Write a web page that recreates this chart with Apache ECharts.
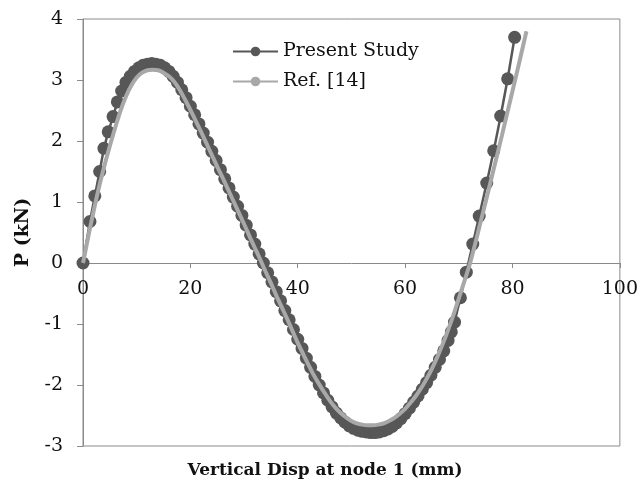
<!DOCTYPE html>
<html>
<head>
<meta charset="utf-8">
<title>P vs vertical disp</title>
<script src="https://cdn.jsdelivr.net/npm/echarts@6/dist/echarts.min.js"></script>
<style>
  html, body { margin: 0; padding: 0; background: #fff; }
  #chart { width: 641px; height: 490px; }
</style>
</head>
<body>
<div id="chart"></div>
<script>
// 本文的计算结果 (Present Study)
const presentX = [0, 1.3, 2.2, 3.1, 3.9, 4.7, 5.6, 6.4, 7.2, 8.0, 8.8, 9.6, 10.4, 11.2, 12.0, 12.8,
  13.6, 14.4, 15.2, 16.0, 16.8, 17.6, 18.4, 19.2, 20.0, 20.8, 21.6, 22.4, 23.2, 24.0, 24.8, 25.6,
  26.4, 27.2, 28.0, 28.8, 29.6, 30.4, 31.2, 32.0, 32.8, 33.6, 34.4, 35.2, 36.0, 36.8, 37.6, 38.4,
  39.2, 40.0, 40.8, 41.6, 42.4, 43.2, 44.0, 44.8, 45.6, 46.4, 47.2, 48.0, 48.8, 49.6, 50.4, 51.2,
  52.0, 52.8, 53.6, 54.4, 55.2, 56.0, 56.8, 57.6, 58.4, 59.2, 60.0, 60.8, 61.6, 62.4, 63.2, 64.0,
  64.8, 65.6, 66.4, 67.2, 68.0, 68.6, 69.2, 70.3, 71.4, 72.6, 73.8, 75.2, 76.5, 77.8, 79.1, 80.4]
const presentY = [0, 0.68, 1.10, 1.50, 1.88, 2.15, 2.40, 2.64, 2.82, 2.96, 3.06, 3.14, 3.20, 3.24, 3.26, 3.27,
  3.26, 3.24, 3.20, 3.14, 3.06, 2.96, 2.84, 2.71, 2.57, 2.43, 2.28, 2.13, 1.98, 1.83, 1.68, 1.53,
  1.38, 1.23, 1.08, 0.93, 0.78, 0.62, 0.46, 0.31, 0.15, 0.00, -0.16, -0.31, -0.47, -0.62, -0.78, -0.93,
  -1.09, -1.25, -1.40, -1.56, -1.71, -1.86, -2.00, -2.13, -2.25, -2.36, -2.46, -2.54, -2.61, -2.67, -2.71, -2.74,
  -2.76, -2.77, -2.78, -2.78, -2.77, -2.75, -2.72, -2.68, -2.62, -2.55, -2.47, -2.38, -2.28, -2.18, -2.07, -1.96,
  -1.84, -1.71, -1.58, -1.44, -1.27, -1.13, -0.97, -0.57, -0.15, 0.31, 0.77, 1.31, 1.84, 2.41, 3.02, 3.70]

// 参考文献 [14] 的曲线
const refX = [0, 1, 2, 3, 4, 5, 6, 7, 8, 9, 10, 11, 12, 13, 14, 15, 16, 17, 18, 19, 20,
  21, 22, 23, 24, 25, 26, 27, 28, 29, 30, 31, 32, 33, 34, 35, 36, 37, 38, 39, 40,
  41, 42, 43, 44, 45, 46, 47, 48, 49, 50, 51, 52, 53, 54, 55, 56, 57, 58, 59, 60,
  61, 62, 63, 64, 65, 66, 67, 68, 69, 70, 71, 72, 73, 74, 75, 76, 77, 78, 79, 80, 81, 82, 82.6]
const refY = [0, 0.44, 0.86, 1.25, 1.60, 1.92, 2.22, 2.50, 2.73, 2.91, 3.04, 3.12, 3.16, 3.17, 3.16, 3.12, 3.06, 2.97, 2.84, 2.68, 2.51,
  2.33, 2.15, 1.96, 1.77, 1.58, 1.40, 1.21, 1.02, 0.83, 0.64, 0.44, 0.25, 0.06, -0.14, -0.33, -0.53, -0.72, -0.91, -1.11, -1.31,
  -1.49, -1.67, -1.84, -1.99, -2.13, -2.26, -2.37, -2.46, -2.53, -2.59, -2.63, -2.65, -2.66, -2.66, -2.65, -2.63, -2.59, -2.54, -2.47, -2.39,
  -2.29, -2.18, -2.05, -1.90, -1.73, -1.54, -1.33, -1.10, -0.85, -0.58, -0.31, -0.03, 0.30, 0.65, 1.00, 1.36, 1.72, 2.08, 2.45, 2.82, 3.19, 3.57, 3.80]

const xTicks = { min: 0, max: 100, interval: 20 }
const yTicks = { min: -3, max: 4, interval: 1 }

const serif = 'DejaVu Serif'
const frameColor = '#8a8a8a'

const chart = echarts.init(document.getElementById('chart'))

// 绘图区: 上 19px, 下 446px; 零线在 4/7 处, 把 x 轴整体上移到零线
const gridTop = 19
const gridBottom = 44
const plotH = 490 - gridTop - gridBottom
const zeroShift = -Math.round(plotH * (0 - yTicks.min) / (yTicks.max - yTicks.min))

const option = {
  animation: false,
  backgroundColor: '#fff',
  grid: {
    left: 83,
    right: 15,
    top: gridTop,
    bottom: gridBottom,
    show: true,
    borderColor: frameColor,
    borderWidth: 1
  },
  legend: {
    orient: 'vertical',
    left: 227,
    top: 37,
    itemWidth: 45,
    itemHeight: 12,
    itemGap: 11,
    textStyle: {
      fontFamily: serif,
      fontSize: 19,
      color: '#111'
    },
    data: ['Present Study', 'Ref. [14]']
  },
  xAxis: {
    type: 'value',
    min: xTicks.min,
    max: xTicks.max,
    interval: xTicks.interval,
    position: 'bottom',
    offset: zeroShift,
    axisLine: { onZero: false, lineStyle: { color: frameColor, width: 1 } },
    axisTick: { show: true, length: 5, lineStyle: { color: frameColor } },
    axisLabel: {
      margin: 17,
      fontFamily: serif,
      fontSize: 19,
      color: '#111'
    },
    splitLine: { show: false }
  },
  yAxis: {
    type: 'value',
    min: yTicks.min,
    max: yTicks.max,
    interval: yTicks.interval,
    name: 'P (kN)',
    nameLocation: 'middle',
    nameGap: 50,
    nameTextStyle: {
      fontFamily: serif,
      fontSize: 19,
      fontWeight: 'bold',
      color: '#111'
    },
    axisLine: { show: true, onZero: false, lineStyle: { color: frameColor, width: 1 } },
    axisTick: { show: true, length: 6, lineStyle: { color: frameColor } },
    axisLabel: {
      margin: 20,
      fontFamily: serif,
      fontSize: 19,
      color: '#111'
    },
    splitLine: { show: false }
  },
  graphic: [
    {
      type: 'text',
      x: 325,
      y: 471,
      style: {
        text: 'Vertical Disp at node 1 (mm)',
        font: 'bold 17px "DejaVu Serif"',
        fill: '#111',
        textAlign: 'center',
        textVerticalAlign: 'middle'
      }
    }
  ],
  series: [
    {
      name: 'Present Study',
      type: 'line',
      data: presentX.map((x, i) => [x, presentY[i]]),
      symbol: 'circle',
      symbolSize: 13,
      clip: false,
      lineStyle: { color: '#575757', width: 2.5 },
      itemStyle: { color: '#575757' },
      z: 2
    },
    {
      name: 'Ref. [14]',
      type: 'line',
      data: refX.map((x, i) => [x, refY[i]]),
      symbol: 'none',
      smooth: 0.3,
      lineStyle: { color: '#a8a8a8', width: 4 },
      itemStyle: { color: '#a8a8a8' },
      z: 3
    }
  ]
}

chart.setOption(option)
</script>
</body>
</html>
